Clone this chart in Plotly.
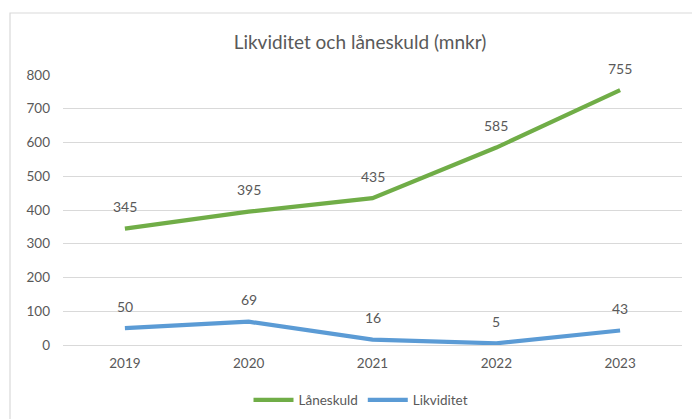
import plotly.graph_objects as go

years = ["2019", "2020", "2021", "2022", "2023"]
laneskuld = [345, 395, 435, 585, 755]
likviditet = [50, 69, 16, 5, 43]
title_text = "Likviditet och låneskuld (mnkr)"
y_ticks = [0, 100, 200, 300, 400, 500, 600, 700, 800]

GREEN = "#70AD47"
BLUE = "#5B9BD5"
TEXT = "#595959"
GRID = "#D9D9D9"
FONT = "Lato, Liberation Sans, sans-serif"

fig = go.Figure()
fig.add_trace(go.Scatter(x=years, y=laneskuld, mode="lines", name="Låneskuld",
                         line=dict(color=GREEN, width=4.2)))
fig.add_trace(go.Scatter(x=years, y=likviditet, mode="lines", name="Likviditet",
                         line=dict(color=BLUE, width=4.2)))

annotations = []
for series in (laneskuld, likviditet):
    for i, yv in enumerate(series):
        annotations.append(dict(x=i, y=yv, xref="x", yref="y", text=str(yv),
                                showarrow=False, yshift=22,
                                font=dict(family=FONT, size=14, color=TEXT)))

fig.update_layout(
    width=692, height=419,
    margin=dict(l=63, r=10, t=75, b=74),
    paper_bgcolor="white", plot_bgcolor="white",
    font=dict(family=FONT, size=13, color=TEXT),
    title=dict(text=title_text, x=(360 - 63) / 619, xref="paper", xanchor="center",
               y=1 - 42 / 419, yref="container", yanchor="middle",
               font=dict(family=FONT, size=19, color=TEXT)),
    xaxis=dict(type="category", range=[-0.5, 4.5], showgrid=False, zeroline=False,
               showline=False, ticks="", ticklabelstandoff=8, automargin=False,
               tickfont=dict(size=13.5, color=TEXT)),
    yaxis=dict(range=[0, 800], tickvals=y_ticks, showgrid=True, gridcolor=GRID,
               gridwidth=1, zeroline=True, zerolinecolor=GRID, zerolinewidth=1,
               showline=False, ticks="", ticklabelstandoff=12, automargin=False,
               tickfont=dict(size=13.5, color=TEXT)),
    showlegend=True,
    legend=dict(orientation="h", x=(361 - 63) / 619, xanchor="center",
                y=1 - 400 / 419, yref="container", yanchor="middle",
                font=dict(family=FONT, size=13.5, color=TEXT), itemwidth=40),
    annotations=annotations,
    shapes=[dict(type="rect", xref="paper", yref="paper",
                 x0=(10 - 63) / 619, x1=1.2, y0=-0.5, y1=1 + (75 - 13) / 270,
                 line=dict(color=GRID, width=1.2), layer="below")],
)

fig.write_html("out.html", post_script="document.body.style.margin='0';",
               config={"displayModeBar": False})
